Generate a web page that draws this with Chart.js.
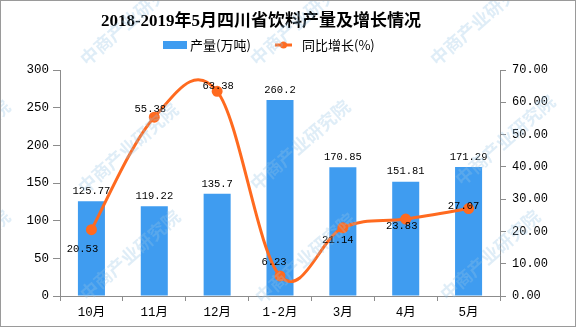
<!DOCTYPE html>
<html>
<head>
<meta charset="utf-8">
<script src="https://cdn.jsdelivr.net/npm/chart.js@4.4.1/dist/chart.umd.min.js"></script>
<style>
  html,body{margin:0;padding:0;background:#fff;}
  #wrap{width:576px;height:327px;position:relative;}
</style>
</head>
<body>
<div id="wrap"><canvas id="c" width="576" height="327"></canvas></div>
<script>
// ── DATA ──
const months = ['10月','11月','12月','1-2月','3月','4月','5月'];
const output = [125.77, 119.22, 135.7, 260.2, 170.85, 151.81, 171.29];   // 产量(万吨)
const growth = [20.53, 55.38, 63.38, 6.23, 21.14, 23.83, 27.07];         // 同比增长(%)
const outputLabels = ['125.77','119.22','135.7','260.2','170.85','151.81','171.29'];
const growthLabels = ['20.53','55.38','63.38','6.23','21.14','23.83','27.07'];

// label nudges for the line values (dx,dy from point), style only
const growthNudge = [[-9,20],[-4,-8],[1,-5],[-6,-14],[-5,12],[-4,7],[-5,-2]];

const BLUE = '#3F9CF0', ORANGE = '#FF6A1F', AXIS = '#8c8c8c';
const MONO = '"Liberation Mono", "Noto Sans CJK SC", monospace';
const SMOOTH = 0.18;

// ── PLUGINS ──
// excel-style smoothing: catmull-rom tangents, not clamped to the chart area
const smoothLine = {
  id: 'smooth',
  beforeDatasetDraw(chart, args) {
    const meta = args.meta;
    if (meta.type !== 'line') return;
    const p = meta.data, n = p.length;
    for (let i = 0; i < n; i++) {
      const a = p[Math.max(0, i - 1)], b = p[Math.min(n - 1, i + 1)];
      const tx = (b.x - a.x) * SMOOTH, ty = (b.y - a.y) * SMOOTH;
      p[i].cp1x = p[i].x - tx; p[i].cp1y = p[i].y - ty;
      p[i].cp2x = p[i].x + tx; p[i].cp2y = p[i].y + ty;
    }
    meta.dataset._pointsUpdated = true;
    meta.dataset._path = undefined;
  }
};

const labelsPlugin = {
  id: 'vals',
  afterDatasetsDraw(chart) {
    const ctx = chart.ctx;
    ctx.save();
    ctx.fillStyle = '#000';
    ctx.font = '10.5px ' + MONO;
    ctx.textAlign = 'center'; ctx.textBaseline = 'middle';
    chart.getDatasetMeta(0).data.forEach((b, i) => {
      ctx.fillText(outputLabels[i], b.x, b.y - 10);
    });
    chart.getDatasetMeta(1).data.forEach((pt, i) => {
      const n = growthNudge[i];
      ctx.fillText(growthLabels[i], pt.x + n[0], pt.y + n[1]);
    });
    ctx.restore();
  }
};

const frame = {
  id: 'frame',
  afterDraw(chart) {
    const ctx = chart.ctx, W = chart.width;
    ctx.save();
    // title
    ctx.fillStyle = '#000';
    ctx.font = 'bold 17px "Liberation Serif", "Noto Sans CJK SC", serif';
    ctx.textAlign = 'center'; ctx.textBaseline = 'middle';
    ctx.fillText('2018-2019年5月四川省饮料产量及增长情况', 261, 22);
    // legend
    ctx.font = '13px "Noto Sans CJK SC", sans-serif';
    ctx.textAlign = 'left';
    ctx.fillStyle = BLUE;
    ctx.fillRect(163, 41, 24, 8);
    ctx.fillStyle = '#000';
    ctx.fillText('产量(万吨)', 190, 45);
    ctx.strokeStyle = ORANGE; ctx.lineWidth = 3;
    ctx.beginPath(); ctx.moveTo(275, 45); ctx.lineTo(292, 45); ctx.stroke();
    ctx.fillStyle = ORANGE;
    ctx.beginPath(); ctx.arc(283.5, 45, 3.5, 0, Math.PI * 2); ctx.fill();
    ctx.fillStyle = '#000';
    ctx.fillText('同比增长(%)', 302, 45);
    // watermark
    ctx.fillStyle = 'rgba(150,195,230,0.3)';
    ctx.font = 'bold 18px "Noto Sans CJK SC", sans-serif';
    ctx.textAlign = 'center';
    [[-50,25],[130,20],[300,20],[480,20],[-40,145],[128,148],[300,145],[505,140],[-40,255],[130,255],[305,258],[490,255]].forEach(([x, y]) => {
      ctx.save(); ctx.translate(x, y); ctx.rotate(-0.72);
      ctx.fillText('中商产业研究院', 0, 0);
      ctx.restore();
    });
    // outer border
    ctx.strokeStyle = '#9a9a9a'; ctx.lineWidth = 1;
    ctx.strokeRect(0.5, 0.5, W - 1, chart.height - 1);
    ctx.restore();
  }
};

// ── CHART ──
new Chart(document.getElementById('c'), {
  type: 'bar',
  data: {
    labels: months,
    datasets: [
      { type: 'bar', label: '产量(万吨)', data: output, yAxisID: 'y',
        backgroundColor: BLUE, categoryPercentage: 1, barPercentage: 0.43, order: 1 },
      { type: 'line', label: '同比增长(%)', data: growth, yAxisID: 'y1',
        borderColor: ORANGE, backgroundColor: ORANGE, borderWidth: 3,
        pointRadius: 4, pointHoverRadius: 4, tension: 0.4, order: 0 }
    ]
  },
  options: {
    responsive: false, animation: false,
    layout: { padding: { top: 70, left: 0, right: 0, bottom: 0 } },
    plugins: { legend: { display: false }, tooltip: { enabled: false } },
    scales: {
      x: {
        grid: { offset: true, drawOnChartArea: false, drawTicks: true, tickLength: 5, color: AXIS },
        border: { color: AXIS },
        ticks: { color: '#000', font: { family: MONO, size: 12.5 }, padding: 4 },
        afterFit(s) { s.height = 31; }
      },
      y: {
        position: 'left', min: 0, max: 300,
        grid: { drawOnChartArea: false, drawTicks: true, tickLength: 7, color: AXIS },
        border: { color: AXIS },
        ticks: { stepSize: 50, color: '#000', font: { family: MONO, size: 12.5 }, padding: 4 },
        afterFit(s) { s.width = 60; }
      },
      y1: {
        position: 'right', min: 0, max: 70,
        grid: { drawOnChartArea: false, drawTicks: true, tickLength: 6, color: AXIS },
        border: { color: AXIS },
        ticks: { stepSize: 10, color: '#000', font: { family: MONO, size: 12 }, padding: 6,
                 callback: v => v.toFixed(2) },
        afterFit(s) { s.width = 76; }
      }
    }
  },
  plugins: [smoothLine, labelsPlugin, frame]
});
</script>
</body>
</html>
